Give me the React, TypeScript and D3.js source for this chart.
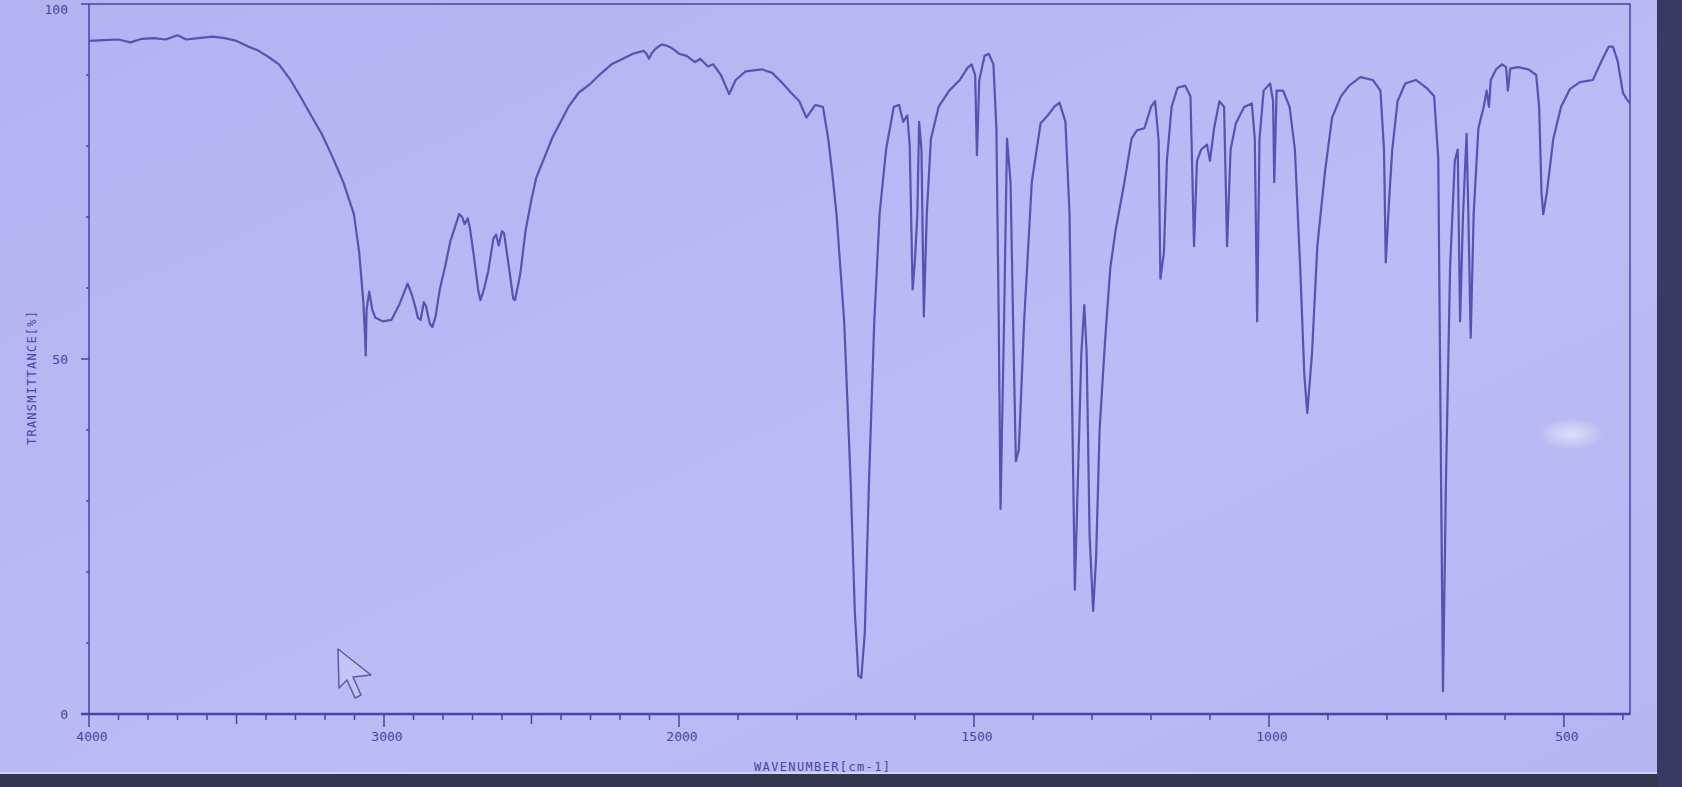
import * as d3 from 'd3';

const WIDTH = 1682;
const HEIGHT = 787;
const PLOT = { left: 89, right: 1630, top: 4, bottom: 714 };

// spectrum: wavenumber (cm-1) and transmittance (%)
const WAVENUMBER = [
  4000, 3950, 3900, 3860, 3820, 3780, 3740, 3700, 3670, 3630, 3580, 3540, 3500,
  3460, 3429, 3390, 3356, 3320, 3284, 3250, 3211, 3175, 3138, 3102, 3084, 3070,
  3064, 3062, 3059, 3050, 3040, 3029, 3004, 2975, 2949, 2920, 2905, 2895, 2885,
  2876, 2865, 2858, 2845, 2836, 2825, 2811, 2793, 2775, 2745, 2735, 2727, 2716,
  2709, 2695, 2680, 2673, 2660, 2647, 2629, 2620, 2611, 2600, 2593, 2575, 2562,
  2556, 2545, 2538, 2520, 2500, 2484, 2455, 2429, 2400, 2375, 2340, 2302, 2265,
  2229, 2190, 2156, 2120, 2110, 2102, 2093, 2084, 2070, 2058, 2040, 2029, 2015,
  2000, 1987, 1973, 1964, 1951, 1942, 1929, 1915, 1904, 1887, 1860, 1842, 1824,
  1810, 1796, 1784, 1769, 1756, 1747, 1740, 1733, 1720, 1709, 1702, 1696, 1691,
  1685, 1678, 1669, 1660, 1649, 1636, 1627, 1620, 1613, 1609, 1604, 1600, 1596,
  1593, 1589, 1585, 1580, 1573, 1560, 1542, 1524, 1511, 1504, 1498, 1495, 1491,
  1482, 1475, 1467, 1462, 1458, 1455, 1449, 1444, 1438, 1433, 1429, 1424, 1415,
  1402, 1387, 1375, 1364, 1355, 1345, 1338, 1333, 1329, 1324, 1318, 1313, 1309,
  1304, 1298, 1293, 1287, 1278, 1269, 1260, 1245, 1233, 1224, 1211, 1200, 1193,
  1187, 1184, 1178, 1173, 1165, 1155, 1142, 1133, 1127, 1122, 1115, 1105, 1100,
  1093, 1084, 1076, 1071, 1065, 1056, 1042, 1029, 1024, 1020, 1016, 1009, 998,
  993, 991, 987, 976, 965, 956, 947, 940, 935, 927, 918, 905, 893, 878, 864, 845,
  824, 811, 805, 802, 796, 791, 782, 769, 751, 733, 720, 713, 709, 705, 700, 693,
  685, 680, 676, 671, 665, 662, 658, 653, 645, 636, 631, 627, 624, 615, 605, 598,
  595, 591, 578, 560, 547, 542, 538, 535, 529, 518, 505, 490, 473, 451, 436, 424,
  417, 409, 400, 393, 388,
];
const TRANSMITTANCE = [
  94.8, 94.9, 95.0, 94.6, 95.1, 95.2, 95.0, 95.6, 95.0, 95.2, 95.4, 95.2, 94.8,
  94.0, 93.5, 92.5, 91.5, 89.5, 87.0, 84.5, 81.7, 78.5, 74.9, 70.4, 65.0, 58.0,
  53.0, 50.5, 57.0, 59.5, 57.0, 55.8, 55.3, 55.5, 57.6, 60.6, 59.0, 57.5, 55.8,
  55.5, 58.0, 57.5, 55.0, 54.5, 56.0, 59.8, 63.0, 66.6, 70.4, 70.0, 69.0, 69.8,
  68.5, 64.4, 59.5, 58.3, 60.0, 62.3, 67.0, 67.5, 66.0, 68.0, 67.7, 62.5, 58.5,
  58.3, 60.5, 62.0, 68.1, 72.5, 75.5, 78.5, 81.2, 83.5, 85.5, 87.5, 88.7, 90.2,
  91.5, 92.3, 93.0, 93.4, 93.0, 92.3, 93.0, 93.5, 94.0, 94.3, 94.1, 93.9, 93.5,
  93.0, 92.7, 91.8, 92.3, 91.2, 91.5, 90.0, 87.3, 89.3, 90.5, 90.8, 90.3, 88.8,
  87.5, 86.3, 84.0, 85.8, 85.5, 81.0, 76.0, 70.4, 55.3, 32.6, 14.5, 5.4, 5.1,
  11.5, 32.6, 55.3, 70.4, 79.5, 85.5, 85.8, 83.4, 84.3, 80.2, 59.8, 64.0, 70.4,
  83.4, 79.5, 56.0, 70.4, 81.0, 85.5, 87.8, 89.3, 91.0, 91.5, 90.0, 78.7, 89.3,
  92.7, 93.0, 91.5, 82.5, 55.3, 28.9, 55.3, 81.0, 74.9, 52.3, 35.6, 37.2, 55.3,
  74.9, 83.2, 84.3, 85.5, 86.1, 83.4, 70.4, 40.2, 17.5, 32.6, 50.8, 57.6, 50.8,
  25.1, 14.5, 22.0, 40.2, 52.3, 62.8, 68.1, 74.9, 81.0, 82.2, 82.5, 85.5, 86.3,
  80.8, 61.3, 65.0, 77.9, 85.5, 88.2, 88.5, 87.0, 65.9, 77.9, 79.5, 80.2, 77.9,
  82.5, 86.3, 85.5, 65.9, 79.5, 83.2, 85.5, 86.0, 81.0, 55.3, 81.0, 87.8, 88.8,
  86.3, 74.9, 87.8, 87.8, 85.5, 79.5, 62.8, 47.7, 42.4, 50.8, 65.9, 76.4, 84.0,
  87.0, 88.5, 89.7, 89.3, 87.8, 79.5, 63.6, 72.8, 79.5, 86.3, 88.8, 89.3, 88.2,
  87.0, 78.2, 40.2, 3.2, 32.6, 62.8, 77.9, 79.5, 55.3, 70.4, 81.7, 70.4, 53.0,
  70.4, 82.5, 85.5, 87.8, 85.5, 89.3, 90.8, 91.5, 91.1, 87.8, 90.9, 91.1, 90.8,
  90.0, 85.5, 73.4, 70.4, 73.4, 81.0, 85.5, 88.0, 89.0, 89.3, 92.0, 94.0, 94.0,
  92.0, 87.5, 86.5, 86.0,
];

const X_TICK_LABELS = [4000, 3000, 2000, 1500, 1000, 500];
const Y_TICK_LABELS = [0, 50, 100];

const INK = '#4646a4';
const LINE = '#5454b2';
const FONT = '"DejaVu Sans Mono", monospace';

// 4000-2000 drawn at half the scale of 2000-400 (the photo's frame runs a bit past 400)
const x = d3
  .scaleLinear()
  .domain([4000, 2000, 388])
  .range([PLOT.left, 679, PLOT.right]);
const y = d3.scaleLinear().domain([0, 100]).range([PLOT.bottom, PLOT.top]);

const points = WAVENUMBER.map((w, i) => [w, TRANSMITTANCE[i]] as [number, number]);
const spectrum = d3
  .line<[number, number]>()
  .x((d) => x(d[0]))
  .y((d) => y(d[1]))(points);

const xTicks = [...d3.range(4000, 2000, -100), ...d3.range(2000, 399, -100)];
const yTicks = d3.range(0, 101, 10);

// mouse pointer that sits on the screen in the photo
const CURSOR = 'M338,649 L339,688 L347,680 L355,698 L361,695 L353,677 L371,675 Z';

export default function App() {
  return (
    <svg
      width={WIDTH}
      height={HEIGHT}
      style={{ position: 'absolute', left: 0, top: 0, display: 'block' }}
    >
      <defs>
        <radialGradient id="glare">
          <stop offset="0%" stopColor="#ffffff" stopOpacity={0.55} />
          <stop offset="100%" stopColor="#ffffff" stopOpacity={0} />
        </radialGradient>
        <linearGradient id="screen" x1="0" y1="0" x2="1" y2="1">
          <stop offset="0%" stopColor="#b3b3f2" />
          <stop offset="60%" stopColor="#bbbbf5" />
          <stop offset="100%" stopColor="#b5b5f2" />
        </linearGradient>
      </defs>
      <rect width={WIDTH} height={HEIGHT} fill="url(#screen)" />
      <ellipse cx={1571} cy={434} rx={34} ry={16} fill="url(#glare)" />

      {/* frame */}
      <rect
        x={PLOT.left}
        y={PLOT.top}
        width={PLOT.right - PLOT.left}
        height={PLOT.bottom - PLOT.top}
        fill="none"
        stroke={INK}
        strokeWidth={1.5}
      />
      <line x1={PLOT.left - 8} x2={PLOT.right} y1={PLOT.bottom} y2={PLOT.bottom} stroke={INK} strokeWidth={2.5} />

      {/* y ticks */}
      {yTicks.map((t) => (
        <line
          key={'y' + t}
          x1={PLOT.left - (t % 50 === 0 ? 8 : 3)}
          x2={PLOT.left}
          y1={y(t)}
          y2={y(t)}
          stroke={INK}
          strokeWidth={1.5}
        />
      ))}
      {Y_TICK_LABELS.map((t) => (
        <text
          key={'yl' + t}
          x={PLOT.left - 21}
          y={y(t)}
          dy={t === 100 ? '0.75em' : '0.35em'}
          textAnchor="end"
          fontFamily={FONT}
          fontSize={13}
          fill={INK}
        >
          {t}
        </text>
      ))}

      {/* x ticks */}
      {xTicks.map((t) => {
        const major = X_TICK_LABELS.includes(t);
        const mid = t === 3500 || t === 2500;
        return (
          <line
            key={'x' + t}
            x1={x(t)}
            x2={x(t)}
            y1={PLOT.bottom}
            y2={PLOT.bottom + (major ? 13 : mid ? 10 : 6)}
            stroke={INK}
            strokeWidth={1.5}
          />
        );
      })}
      {X_TICK_LABELS.map((t) => (
        <text
          key={'xl' + t}
          x={x(t) + 3}
          y={PLOT.bottom + 27}
          textAnchor="middle"
          fontFamily={FONT}
          fontSize={13}
          fill={INK}
        >
          {t}
        </text>
      ))}

      <text
        x={822}
        y={771}
        textAnchor="middle"
        fontFamily={FONT}
        fontSize={12}
        fill={INK}
        textLength={136}
      >
        WAVENUMBER[cm-1]
      </text>
      <text
        transform="translate(36,378) rotate(-90)"
        textAnchor="middle"
        fontFamily={FONT}
        fontSize={12}
        fill={INK}
        textLength={134}
      >
        TRANSMITTANCE[%]
      </text>

      <path d={spectrum ?? ''} fill="none" stroke={LINE} strokeWidth={2.2} strokeLinejoin="round" />

      <path d={CURSOR} fill="#c4c4f6" stroke="#5a5aa8" strokeWidth={1.5} strokeLinejoin="round" />

      {/* monitor bezel seen at the photo edges */}
      <rect x={0} y={773} width={WIDTH} height={HEIGHT - 773} fill="#34374f" />
      <line x1={0} x2={WIDTH} y1={773} y2={773} stroke="#cfd3f0" strokeWidth={2} />
      <rect x={1657} y={0} width={WIDTH - 1657} height={HEIGHT} fill="#383a62" />
    </svg>
  );
}
